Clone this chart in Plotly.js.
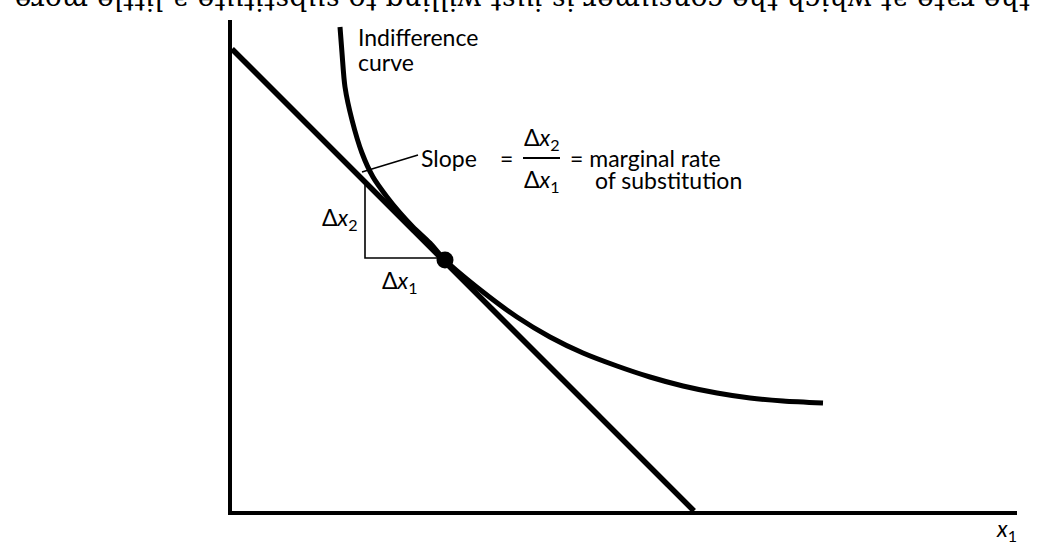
<!DOCTYPE html>
<html>
<head>
<meta charset="utf-8">
<script src="https://cdn.plot.ly/plotly-3.0.1.min.js"></script>
<style>html,body{margin:0;padding:0;background:#fff;}#chart{width:1049px;height:547px;}</style>
</head>
<body>
<div id="chart"></div>
<script>
// Budget line (x1, x2)
var budgetX = [0, 4.62];
var budgetY = [4.62, 0];
// Indifference curve
var curveX = [1.08, 1.10, 1.13, 1.20, 1.30, 1.41, 1.55, 1.68, 1.81, 1.98, 2.13, 2.51, 2.85, 3.18, 3.51, 3.85, 4.18, 4.51, 4.85, 5.18, 5.51, 5.91];
var curveY = [4.84, 4.58, 4.24, 3.91, 3.58, 3.34, 3.14, 2.98, 2.84, 2.68, 2.51, 2.19, 1.94, 1.74, 1.58, 1.45, 1.34, 1.25, 1.18, 1.13, 1.10, 1.08];
// Tangency point
var tangentX = [2.13];
var tangentY = [2.51];
// Slope triangle (Δx2 then Δx1)
var triX = [1.33, 1.33, 2.13];
var triY = [3.28, 2.53, 2.53];
// Leader line to the "Slope" label
var leaderX = [1.30, 1.86];
var leaderY = [3.39, 3.56];
// Texts
var labelCurve1 = "Indifference";
var labelCurve2 = "curve";
var labelSlope = "Slope";
var labelDx2 = "Δ<i>x</i><sub>2</sub>";
var labelDx1 = "Δ<i>x</i><sub>1</sub>";
var labelMrs1 = "= marginal rate";
var labelMrs2 = "of substitution";
var labelAxis = "<i>x</i><sub>1</sub>";
var topText = "the rate at which the consumer is just willing to substitute a little more";

var font = "Lato, 'Open Sans', sans-serif";
var black = "#000";

var traces = [
  {x: budgetX, y: budgetY, mode: "lines", line: {color: black, width: 5.5}, hoverinfo: "skip"},
  {x: curveX, y: curveY, mode: "lines", line: {color: black, width: 5, shape: "spline", smoothing: 0.8}, hoverinfo: "skip"},
  {x: triX, y: triY, mode: "lines", line: {color: black, width: 1.6}, hoverinfo: "skip"},
  {x: leaderX, y: leaderY, mode: "lines", line: {color: black, width: 1.6}, hoverinfo: "skip"},
  {x: tangentX, y: tangentY, mode: "markers", marker: {color: black, size: 17}, hoverinfo: "skip"}
];

function ann(x, y, text, xa, ya, size) {
  return {x: x, y: y, xref: "x", yref: "y", text: text, showarrow: false,
    xanchor: xa, yanchor: ya, align: "left", borderpad: 0, font: {family: font, size: size, color: black}};
}

var layout = {
  width: 1049, height: 547,
  margin: {l: 232, r: 32, t: 20, b: 36, pad: 0},
  paper_bgcolor: "#fff", plot_bgcolor: "#fff",
  showlegend: false, hovermode: false,
  xaxis: {range: [0, 7.85], showline: true, linewidth: 4, linecolor: black, showgrid: false, zeroline: false, ticks: "", showticklabels: false, fixedrange: true},
  yaxis: {range: [0, 4.91], showline: true, linewidth: 4, linecolor: black, showgrid: false, zeroline: false, ticks: "", showticklabels: false, fixedrange: true},
  shapes: [
    {type: "line", xref: "x", yref: "y", x0: 2.91, x1: 3.28, y0: 3.53, y1: 3.53, line: {color: black, width: 1.8}}
  ],
  annotations: [
    ann(1.25, 4.74, labelCurve1, "left", "middle", 23),
    ann(1.25, 4.49, labelCurve2, "left", "middle", 23),
    ann(1.88, 3.53, labelSlope, "left", "middle", 23),
    ann(2.74, 3.53, "=", "center", "middle", 23),
    ann(3.10, 3.73, labelDx2, "center", "middle", 23),
    ann(3.10, 3.31, labelDx1, "center", "middle", 23),
    ann(3.37, 3.53, labelMrs1, "left", "middle", 23),
    ann(3.62, 3.31, labelMrs2, "left", "middle", 23),
    ann(1.27, 2.93, labelDx2, "right", "middle", 23),
    ann(1.68, 2.30, labelDx1, "center", "middle", 23),
    {x: 0.987, y: -0.038, xref: "paper", yref: "paper", text: labelAxis, showarrow: false, borderpad: 0,
     xanchor: "center", yanchor: "middle", font: {family: font, size: 23, color: black}},
    {x: 0.370, y: 1.0394, xref: "paper", yref: "paper", text: topText, showarrow: false,
     textangle: 180, xanchor: "center", yanchor: "middle",
     font: {family: "'DejaVu Serif', serif", size: 28, color: black}}
  ]
};

Plotly.newPlot("chart", traces, layout, {displayModeBar: false, staticPlot: true});
</script>
</body>
</html>
